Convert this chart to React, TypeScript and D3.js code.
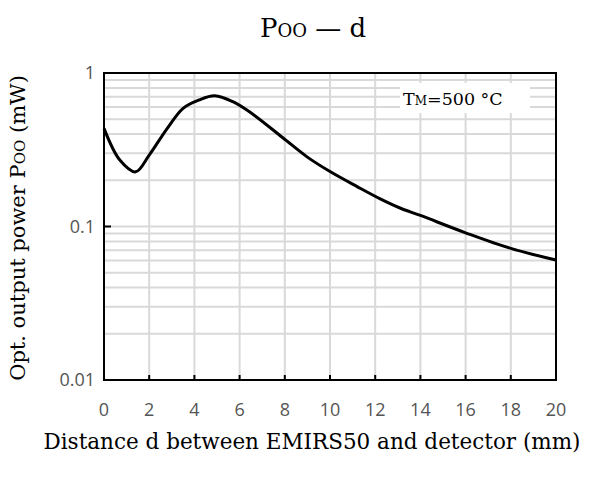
import React from "react";
import * as d3 from "d3";

const distance = [0, 0.7, 1.4, 2, 2.8, 3.5, 4.2, 4.9, 5.7, 6.5, 7.9, 9, 10, 11.2, 12.2, 13.1, 14, 16, 18, 20];
const power = [0.436, 0.271, 0.227, 0.292, 0.436, 0.589, 0.667, 0.711, 0.65, 0.55, 0.38, 0.283, 0.228, 0.182, 0.152, 0.132, 0.118, 0.091, 0.072, 0.0605];
const xTicks = [0, 2, 4, 6, 8, 10, 12, 14, 16, 18, 20];
const yTicks = [0.01, 0.1, 1];
const yTickLabels = ["0.01", "0.1", "1"];

const W = 592, H = 477;
const L = 104, R = 556, T = 73, B = 380;

export default function App() {
  const x = d3.scaleLinear().domain([0, 20]).range([L, R]);
  const y = d3.scaleLog().domain([0.01, 1]).range([B, T]);
  const minor: number[] = [];
  [0.01, 0.1].forEach((dec) => {
    for (let k = 2; k <= 9; k++) minor.push(dec * k);
  });
  const line = d3
    .line<number>()
    .x((_, i) => x(distance[i]))
    .y((d) => y(d))
    .curve(d3.curveCatmullRom.alpha(0.5));
  const serif = "'DejaVu Serif', serif";
  const sans = "'Open Sans', sans-serif";
  return (
    <svg width={W} height={H} style={{ position: "absolute", left: 0, top: 0 }}>
      <rect width={W} height={H} fill="#fff" />
      <text x={313} y={37} textAnchor="middle" fontFamily={serif} fontSize={26} fill="#000">
        P<tspan fontSize={18}>OO</tspan> — d
      </text>
      {minor.map((v) => (
        <line key={"h" + v} x1={L} x2={R} y1={y(v)} y2={y(v)} stroke="#d9d9d9" strokeWidth={2} />
      ))}
      {yTicks.slice(1, 2).map((v) => (
        <line key={"hm" + v} x1={L} x2={R} y1={y(v)} y2={y(v)} stroke="#d9d9d9" strokeWidth={2} />
      ))}
      {xTicks.slice(1, -1).map((v) => (
        <line key={"v" + v} x1={x(v)} x2={x(v)} y1={T} y2={B} stroke="#d9d9d9" strokeWidth={2} />
      ))}
      <rect x={400} y={83} width={130} height={30} fill="#fff" />
      <text x={403} y={105} fontFamily={serif} fontSize={17.5} fill="#000">
        T<tspan fontSize={12}>M</tspan>=500 °C
      </text>
      <path d={line(power) || ""} fill="none" stroke="#000" strokeWidth={3} strokeLinejoin="round" />
      <rect x={L} y={T} width={R - L} height={B - T} fill="none" stroke="#000" strokeWidth={2} />
      {xTicks.slice(1, -1).map((v) => (
        <line key={"t" + v} x1={x(v)} x2={x(v)} y1={B} y2={B - 5} stroke="#000" strokeWidth={2} />
      ))}
      <line x1={L} x2={L + 7} y1={y(0.1)} y2={y(0.1)} stroke="#000" strokeWidth={2} />
      {xTicks.map((v) => (
        <text key={"xl" + v} x={x(v)} y={416} textAnchor="middle" fontFamily={sans} fontSize={18} fill="#555">
          {v}
        </text>
      ))}
      {yTicks.map((v, i) => (
        <text key={"yl" + v} x={95} y={y(v) + 6} textAnchor="end" fontFamily={sans} fontSize={18} fill="#555">
          {yTickLabels[i]}
        </text>
      ))}
      <text x={312} y={449} textAnchor="middle" fontFamily={serif} fontSize={21.5} fill="#000">
        Distance d between EMIRS50 and detector (mm)
      </text>
      <text transform={`translate(25,228) rotate(-90)`} textAnchor="middle" fontFamily={serif} fontSize={21} fill="#000">
        Opt. output power P<tspan fontSize={15}>OO</tspan> (mW)
      </text>
    </svg>
  );
}
